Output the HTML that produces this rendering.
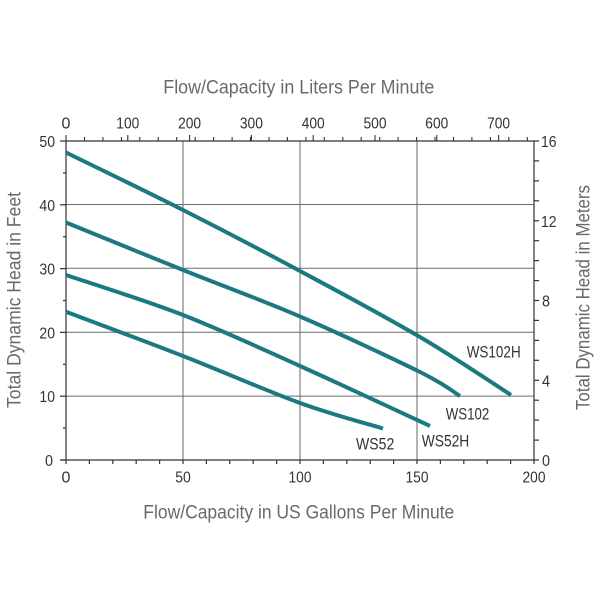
<!DOCTYPE html>
<html><head><meta charset="utf-8"><style>
html,body{margin:0;padding:0;background:#fff;}
svg{display:block;}
text{font-family:"Liberation Sans",sans-serif;}
</style></head><body>
<svg width="600" height="600" viewBox="0 0 600 600" xmlns="http://www.w3.org/2000/svg">
<rect width="600" height="600" fill="#fff"/>
<!-- grid -->
<g stroke="#6a6a6a" stroke-width="1">
<line x1="183" y1="141" x2="183" y2="460"/>
<line x1="300" y1="141" x2="300" y2="460"/>
<line x1="417" y1="141" x2="417" y2="460"/>
<line x1="66" y1="204.5" x2="534" y2="204.5"/>
<line x1="66" y1="268.3" x2="534" y2="268.3"/>
<line x1="66" y1="332.2" x2="534" y2="332.2"/>
<line x1="66" y1="396.1" x2="534" y2="396.1"/>
</g>
<!-- frame -->
<g stroke="#333" stroke-width="1.2" fill="none">
<line x1="66" y1="141" x2="534" y2="141"/>
<line x1="66" y1="141" x2="66" y2="460"/>
<line x1="534" y1="141" x2="534" y2="460"/>
<line x1="61" y1="460" x2="534" y2="460"/>
</g>
<!-- left ticks -->
<g stroke="#333" stroke-width="1.2">
<line x1="60" y1="141" x2="66" y2="141"/>
<line x1="63" y1="172.9" x2="66" y2="172.9"/>
<line x1="60" y1="204.8" x2="66" y2="204.8"/>
<line x1="63" y1="236.7" x2="66" y2="236.7"/>
<line x1="60" y1="268.6" x2="66" y2="268.6"/>
<line x1="63" y1="300.5" x2="66" y2="300.5"/>
<line x1="60" y1="332.4" x2="66" y2="332.4"/>
<line x1="63" y1="364.3" x2="66" y2="364.3"/>
<line x1="60" y1="396.2" x2="66" y2="396.2"/>
<line x1="63" y1="428.1" x2="66" y2="428.1"/>
<line x1="60" y1="460" x2="66" y2="460"/>
</g>
<!-- right ticks every 1 m -->
<g stroke="#333" stroke-width="1.2">
<line x1="534" y1="141" x2="539" y2="141"/>
<line x1="534" y1="160.9" x2="539" y2="160.9"/>
<line x1="534" y1="180.9" x2="539" y2="180.9"/>
<line x1="534" y1="200.8" x2="539" y2="200.8"/>
<line x1="534" y1="220.8" x2="539" y2="220.8"/>
<line x1="534" y1="240.7" x2="539" y2="240.7"/>
<line x1="534" y1="260.6" x2="539" y2="260.6"/>
<line x1="534" y1="280.6" x2="539" y2="280.6"/>
<line x1="534" y1="300.5" x2="539" y2="300.5"/>
<line x1="534" y1="320.4" x2="539" y2="320.4"/>
<line x1="534" y1="340.4" x2="539" y2="340.4"/>
<line x1="534" y1="360.3" x2="539" y2="360.3"/>
<line x1="534" y1="380.3" x2="539" y2="380.3"/>
<line x1="534" y1="400.2" x2="539" y2="400.2"/>
<line x1="534" y1="420.1" x2="539" y2="420.1"/>
<line x1="534" y1="440.1" x2="539" y2="440.1"/>
<line x1="534" y1="460" x2="539" y2="460"/>
</g>
<!-- bottom ticks every 10 gpm -->
<g stroke="#333" stroke-width="1.2">
<line x1="66" y1="460" x2="66" y2="464"/>
<line x1="89.4" y1="460" x2="89.4" y2="464"/>
<line x1="112.8" y1="460" x2="112.8" y2="464"/>
<line x1="136.2" y1="460" x2="136.2" y2="464"/>
<line x1="159.6" y1="460" x2="159.6" y2="464"/>
<line x1="183" y1="460" x2="183" y2="464"/>
<line x1="206.4" y1="460" x2="206.4" y2="464"/>
<line x1="229.8" y1="460" x2="229.8" y2="464"/>
<line x1="253.2" y1="460" x2="253.2" y2="464"/>
<line x1="276.6" y1="460" x2="276.6" y2="464"/>
<line x1="300" y1="460" x2="300" y2="464"/>
<line x1="323.4" y1="460" x2="323.4" y2="464"/>
<line x1="346.8" y1="460" x2="346.8" y2="464"/>
<line x1="370.2" y1="460" x2="370.2" y2="464"/>
<line x1="393.6" y1="460" x2="393.6" y2="464"/>
<line x1="417" y1="460" x2="417" y2="464"/>
<line x1="440.4" y1="460" x2="440.4" y2="464"/>
<line x1="463.8" y1="460" x2="463.8" y2="464"/>
<line x1="487.2" y1="460" x2="487.2" y2="464"/>
<line x1="510.6" y1="460" x2="510.6" y2="464"/>
<line x1="534" y1="460" x2="534" y2="464"/>
</g>
<!-- top ticks: minor -->
<g stroke="#333" stroke-width="1.1">
<line x1="84.5" y1="141" x2="84.5" y2="137"/>
<line x1="102.9" y1="141" x2="102.9" y2="137"/>
<line x1="121.4" y1="141" x2="121.4" y2="137"/>
<line x1="139.8" y1="141" x2="139.8" y2="137"/>
<line x1="158.3" y1="141" x2="158.3" y2="137"/>
<line x1="176.7" y1="141" x2="176.7" y2="137"/>
<line x1="195.2" y1="141" x2="195.2" y2="137"/>
<line x1="213.6" y1="141" x2="213.6" y2="137"/>
<line x1="232.1" y1="141" x2="232.1" y2="137"/>
<line x1="250.5" y1="141" x2="250.5" y2="137"/>
<line x1="269" y1="141" x2="269" y2="137"/>
<line x1="287.4" y1="141" x2="287.4" y2="137"/>
<line x1="305.9" y1="141" x2="305.9" y2="137"/>
<line x1="324.3" y1="141" x2="324.3" y2="137"/>
<line x1="342.8" y1="141" x2="342.8" y2="137"/>
<line x1="361.2" y1="141" x2="361.2" y2="137"/>
<line x1="379.7" y1="141" x2="379.7" y2="137"/>
<line x1="398.1" y1="141" x2="398.1" y2="137"/>
<line x1="416.6" y1="141" x2="416.6" y2="137"/>
<line x1="435" y1="141" x2="435" y2="137"/>
<line x1="453.5" y1="141" x2="453.5" y2="137"/>
<line x1="471.9" y1="141" x2="471.9" y2="137"/>
<line x1="490.4" y1="141" x2="490.4" y2="137"/>
<line x1="508.8" y1="141" x2="508.8" y2="137"/>
<line x1="527.3" y1="141" x2="527.3" y2="137"/>
</g>
<!-- top ticks: major (100 L) -->
<g stroke="#333" stroke-width="1.1">
<line x1="66" y1="141" x2="66" y2="135"/>
<line x1="127.8" y1="141" x2="127.8" y2="135"/>
<line x1="189.6" y1="141" x2="189.6" y2="135"/>
<line x1="251.4" y1="141" x2="251.4" y2="135"/>
<line x1="313.2" y1="141" x2="313.2" y2="135"/>
<line x1="375" y1="141" x2="375" y2="135"/>
<line x1="436.8" y1="141" x2="436.8" y2="135"/>
<line x1="498.6" y1="141" x2="498.6" y2="135"/>
</g>
<!-- curves -->
<g fill="none" stroke="#1b7a80" stroke-width="4" stroke-linejoin="round">
<path d="M66,152.5 C85.5,162.1 144,190.25 183,210 C222,229.75 260.5,249.8 300,271 C339.5,292.2 384.8,316.3 420,337 C455.2,357.7 495.8,385.3 511,395"/>
<path d="M66,222.5 C85.5,230.4 144,254.3 183,270 C222,285.7 260.5,299.5 300,316.5 C339.5,333.5 393.3,358.75 420,372 C446.7,385.25 453.3,392 460,396"/>
<path d="M66,275 C85.5,281.7 144,299.8 183,315 C222,330.2 258.8,347.5 300,366 C341.2,384.5 408.3,416 430,426"/>
<path d="M66,311.7 C85.5,319.1 144,340.8 183,356 C222,371.2 266.7,390.9 300,403 C333.3,415.1 369.2,424.25 383,428.5"/>
</g>
<!-- series labels -->
<g fill="#333" font-size="17">
<text x="466.7" y="357.3" textLength="54" lengthAdjust="spacingAndGlyphs">WS102H</text>
<text x="445.7" y="419.3" textLength="43.6" lengthAdjust="spacingAndGlyphs">WS102</text>
<text x="421.7" y="446.7" textLength="47.6" lengthAdjust="spacingAndGlyphs">WS52H</text>
<text x="356" y="449.3" textLength="38.3" lengthAdjust="spacingAndGlyphs">WS52</text>
</g>
<!-- left tick labels -->
<g fill="#333" font-size="16" text-anchor="end">
<text x="55" y="147" textLength="15.6" lengthAdjust="spacingAndGlyphs">50</text>
<text x="55" y="210.8" textLength="15.6" lengthAdjust="spacingAndGlyphs">40</text>
<text x="55" y="274.6" textLength="15.6" lengthAdjust="spacingAndGlyphs">30</text>
<text x="55" y="338.4" textLength="15.6" lengthAdjust="spacingAndGlyphs">20</text>
<text x="55" y="402.2" textLength="15.6" lengthAdjust="spacingAndGlyphs">10</text>
<text x="53" y="466" textLength="8" lengthAdjust="spacingAndGlyphs">0</text>
</g>
<!-- right tick labels -->
<g fill="#333" font-size="16">
<text x="541" y="147" textLength="15.6" lengthAdjust="spacingAndGlyphs">16</text>
<text x="541" y="226.8" textLength="15.6" lengthAdjust="spacingAndGlyphs">12</text>
<text x="542" y="306.5" textLength="8" lengthAdjust="spacingAndGlyphs">8</text>
<text x="542" y="386.3" textLength="8" lengthAdjust="spacingAndGlyphs">4</text>
<text x="542" y="466" textLength="8" lengthAdjust="spacingAndGlyphs">0</text>
</g>
<!-- top tick labels -->
<g fill="#333" font-size="16" text-anchor="middle">
<text x="66" y="128.3">0</text>
<text x="127.8" y="128.3" textLength="23" lengthAdjust="spacingAndGlyphs">100</text>
<text x="189.6" y="128.3" textLength="23" lengthAdjust="spacingAndGlyphs">200</text>
<text x="251.4" y="128.3" textLength="23" lengthAdjust="spacingAndGlyphs">300</text>
<text x="313.2" y="128.3" textLength="23" lengthAdjust="spacingAndGlyphs">400</text>
<text x="375" y="128.3" textLength="23" lengthAdjust="spacingAndGlyphs">500</text>
<text x="436.8" y="128.3" textLength="23" lengthAdjust="spacingAndGlyphs">600</text>
<text x="498.6" y="128.3" textLength="23" lengthAdjust="spacingAndGlyphs">700</text>
</g>
<!-- bottom tick labels -->
<g fill="#333" font-size="16" text-anchor="middle">
<text x="66" y="482.7">0</text>
<text x="183" y="482.7" textLength="15.6" lengthAdjust="spacingAndGlyphs">50</text>
<text x="300" y="482.7" textLength="23" lengthAdjust="spacingAndGlyphs">100</text>
<text x="417" y="482.7" textLength="23" lengthAdjust="spacingAndGlyphs">150</text>
<text x="534" y="482.7" textLength="23" lengthAdjust="spacingAndGlyphs">200</text>
</g>
<!-- axis titles -->
<g fill="#6a6a6a" font-size="19">
<text x="163.3" y="93.3" textLength="271" lengthAdjust="spacingAndGlyphs">Flow/Capacity in Liters Per Minute</text>
<text x="143.3" y="518.3" textLength="311" lengthAdjust="spacingAndGlyphs">Flow/Capacity in US Gallons Per Minute</text>
<text transform="translate(20.5,408) rotate(-90)" textLength="216" lengthAdjust="spacingAndGlyphs">Total Dynamic Head in Feet</text>
<text transform="translate(589.5,410) rotate(-90)" textLength="225" lengthAdjust="spacingAndGlyphs">Total Dynamic Head in Meters</text>
</g>
</svg>
</body></html>
